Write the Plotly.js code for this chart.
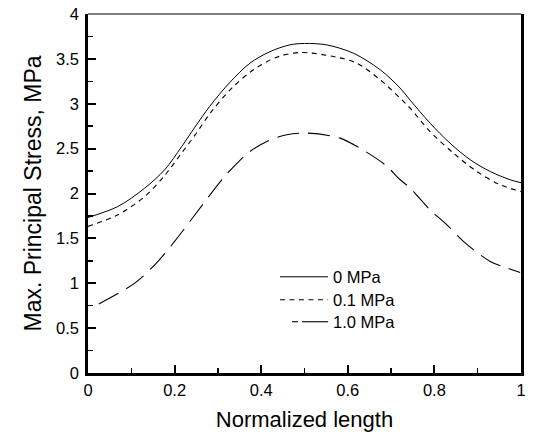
<!DOCTYPE html>
<html>
<head>
<meta charset="utf-8">
<script src="https://cdn.plot.ly/plotly-3.0.1.min.js"></script>
<style>html,body{margin:0;padding:0;background:#fff;}#chart{width:533px;height:434px;}</style>
</head>
<body>
<div id="chart"></div>
<script>
// 0 MPa
const x0 = [0, 0.069, 0.131, 0.177, 0.216, 0.247, 0.281, 0.328, 0.374, 0.42, 0.466, 0.5, 0.551, 0.613, 0.675, 0.721, 0.744, 0.79, 0.836, 0.883, 0.929, 0.975, 1.0];
const y0 = [1.733, 1.855, 2.06, 2.264, 2.52, 2.74, 2.97, 3.24, 3.452, 3.58, 3.656, 3.672, 3.656, 3.563, 3.378, 3.174, 3.04, 2.784, 2.561, 2.375, 2.245, 2.153, 2.12];
// 0.1 MPa
const x1 = [0, 0.069, 0.131, 0.177, 0.216, 0.247, 0.285, 0.332, 0.382, 0.436, 0.49, 0.567, 0.621, 0.675, 0.721, 0.744, 0.79, 0.844, 0.898, 0.952, 1.0];
const y1 = [1.633, 1.763, 1.967, 2.2, 2.45, 2.65, 2.913, 3.174, 3.378, 3.519, 3.571, 3.526, 3.452, 3.266, 3.062, 2.95, 2.69, 2.45, 2.245, 2.097, 2.022];
// 1.0 MPa
const x2 = [0.025, 0.108, 0.158, 0.2, 0.247, 0.312, 0.351, 0.374, 0.413, 0.459, 0.507, 0.582, 0.628, 0.686, 0.721, 0.744, 0.79, 0.829, 0.867, 0.929, 0.968, 0.998];
const y2 = [0.77, 1.002, 1.225, 1.466, 1.763, 2.17, 2.37, 2.468, 2.58, 2.654, 2.673, 2.617, 2.505, 2.32, 2.153, 2.06, 1.818, 1.651, 1.466, 1.243, 1.169, 1.12];
const names = ["0 MPa", "0.1 MPa", "1.0 MPa"];
const xTicks = [0, 0.2, 0.4, 0.6, 0.8, 1];
const xTickText = ["0", "0.2", "0.4", "0.6", "0.8", "1"];
const yTicks = [0, 0.5, 1, 1.5, 2, 2.5, 3, 3.5, 4];
const yTickText = ["0", "0.5", "1", "1.5", "2", "2.5", "3", "3.5", "4"];

const font = "Liberation Sans, Arial, sans-serif";
const dashes = ["solid", "5px,4.5px", "22px,9px"];
const traces = [
  {x: x0, y: y0, name: names[0], mode: "lines", line: {color: "#000", width: 1, dash: dashes[0], shape: "spline", smoothing: 0.9}},
  {x: x1, y: y1, name: names[1], mode: "lines", line: {color: "#000", width: 1.1, dash: dashes[1], shape: "spline", smoothing: 0.9}},
  {x: x2, y: y2, name: names[2], mode: "lines", line: {color: "#000", width: 1.1, dash: dashes[2], shape: "spline", smoothing: 0.9}}
];

// hand-drawn legend (paper coordinates), matching the original's longer samples
const legRows = [0.268, 0.204, 0.1428];
const legX0 = 0.4433, legX1 = 0.5544, legText = 0.5613;
const shapes = [
  {type: "line", xref: "paper", yref: "paper", x0: 0, x1: 1, y0: 1, y1: 1, line: {color: "#000", width: 1.2}},
  {type: "line", xref: "paper", yref: "paper", x0: legX0, x1: legX1, y0: legRows[0], y1: legRows[0], line: {color: "#000", width: 1}},
  {type: "line", xref: "paper", yref: "paper", x0: legX0, x1: legX1, y0: legRows[1], y1: legRows[1], line: {color: "#000", width: 1.1, dash: dashes[1]}},
  {type: "line", xref: "paper", yref: "paper", x0: 0.4711, x1: 0.485, y0: legRows[2], y1: legRows[2], line: {color: "#000", width: 1.1}},
  {type: "line", xref: "paper", yref: "paper", x0: 0.4942, x1: legX1, y0: legRows[2], y1: legRows[2], line: {color: "#000", width: 1.1}}
];
const annotations = names.map((n, i) => ({
  text: n, xref: "paper", yref: "paper", x: legText, y: legRows[i],
  xanchor: "left", yanchor: "middle", showarrow: false,
  font: {size: 16.5, family: font, color: "#000"}
}));

const layout = {
  width: 533, height: 434,
  margin: {l: 88, r: 12, t: 14, b: 61},
  paper_bgcolor: "#fff", plot_bgcolor: "#fff",
  font: {family: font, color: "#000", size: 16.5},
  showlegend: false,
  xaxis: {
    range: [0, 1], tickvals: xTicks, ticktext: xTickText,
    ticks: "inside", ticklen: 8, tickwidth: 2, tickcolor: "#000",
    minor: {dtick: 0.1, ticks: "inside", ticklen: 5, tickwidth: 1.5, tickcolor: "#000"},
    showline: true, linewidth: 3, linecolor: "#000", mirror: false,
    showgrid: false, zeroline: false,
    tickfont: {size: 16.5, family: font},
    title: {text: "Normalized length", font: {size: 22, family: font}, standoff: 14}
  },
  yaxis: {
    range: [0, 4], tickvals: yTicks, ticktext: yTickText,
    ticks: "inside", ticklen: 8, tickwidth: 2, tickcolor: "#000",
    minor: {dtick: 0.25, ticks: "inside", ticklen: 5, tickwidth: 1.5, tickcolor: "#000"},
    showline: true, linewidth: 2.8, linecolor: "#000", mirror: true,
    showgrid: false, zeroline: false,
    ticklabelstandoff: 3,
    tickfont: {size: 16.5, family: font},
    title: {text: "Max. Principal Stress, MPa", font: {size: 23, family: font}, standoff: 8}
  },
  shapes: shapes,
  annotations: annotations
};
Plotly.newPlot("chart", traces, layout, {staticPlot: true, displayModeBar: false});
</script>
</body>
</html>
